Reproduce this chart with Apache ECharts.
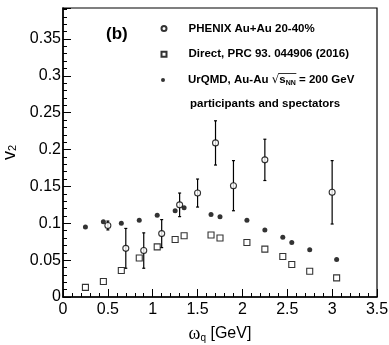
<!DOCTYPE html>
<html><head><meta charset="utf-8">
<script src="https://cdn.jsdelivr.net/npm/echarts@6/dist/echarts.min.js"></script>
<style>html,body{margin:0;padding:0;background:#fff}#c{width:389px;height:345px}</style>
</head><body><div id="c"></div>
<script>
// ---- data ----
const phenixX = [0.5, 0.7, 0.9, 1.1, 1.3, 1.5, 1.7, 1.9, 2.25, 3.0];
const phenixY = [0.097, 0.066, 0.063, 0.086, 0.125, 0.141, 0.209, 0.151, 0.186, 0.142];
const phenixErr = [0.006, 0.027, 0.024, 0.019, 0.016, 0.019, 0.030, 0.034, 0.028, 0.043];
const directX = [0.25, 0.45, 0.65, 0.85, 1.05, 1.25, 1.35, 1.65, 1.75, 2.05, 2.25, 2.45, 2.55, 2.75, 3.05];
const directY = [0.013, 0.021, 0.036, 0.053, 0.068, 0.078, 0.083, 0.084, 0.080, 0.074, 0.065, 0.055, 0.044, 0.035, 0.026];
const urqmdX = [0.25, 0.45, 0.65, 0.85, 1.05, 1.25, 1.35, 1.65, 1.75, 2.05, 2.25, 2.45, 2.55, 2.75, 3.05];
const urqmdY = [0.095, 0.102, 0.100, 0.104, 0.111, 0.117, 0.121, 0.112, 0.109, 0.104, 0.091, 0.081, 0.074, 0.064, 0.051];
const seriesNames = ['PHENIX Au+Au 20-40%', 'Direct, PRC 93. 044906 (2016)', 'UrQMD, Au-Au'];
const xTicks = {min: 0, max: 3.5, step: 0.5};
const yTicks = {min: 0, max: 0.392, step: 0.05, minorStep: 0.01};

const FONT = 'Liberation Sans';
const chart = echarts.init(document.getElementById('c'), null, {renderer: 'canvas'});

const phenixPts = phenixX.map((x, i) => [x, phenixY[i]]);
const phenixBars = phenixX.map((x, i) => [x, phenixY[i] - phenixErr[i], phenixY[i] + phenixErr[i]]);
const directPts = directX.map((x, i) => [x, directY[i]]);
const urqmdPts = urqmdX.map((x, i) => [x, urqmdY[i]]);

function legendItem(name, top, size) {
  return {
    data: [name], left: 163 - size / 2, top: top, orient: 'vertical', padding: 0,
    itemWidth: size, itemHeight: size, selectedMode: false,
    formatter: n => n === seriesNames[2]
      ? n + ' {r|√}{s|s}{n|NN} = 200 GeV'
      : n,
    textStyle: {
      fontFamily: FONT, fontWeight: 'bold', fontSize: 11.5, color: '#000', lineHeight: 14,
      padding: [0, 0, 0, 22 - size],
      rich: {
        r: {fontFamily: 'DejaVu Sans', fontWeight: 'normal', fontSize: 12, color: '#000', lineHeight: 14},
        s: {fontFamily: FONT, fontWeight: 'bold', fontSize: 11.5, color: '#000', lineHeight: 14},
        n: {fontFamily: FONT, fontWeight: 'bold', fontSize: 7, color: '#000', lineHeight: 8, verticalAlign: 'bottom'}
      }
    }
  };
}

// overbar of the square root sign in the UrQMD legend entry
const mctx = document.createElement('canvas').getContext('2d');
function tw(font, s) { mctx.font = font; return mctx.measureText(s).width; }
const legTextX = 161 + 4 + 5 + 18;
const rootX = legTextX + tw('bold 11.5px "Liberation Sans"', seriesNames[2] + ' ');
const rootW = tw('12px "DejaVu Sans"', '√');
const barX1 = rootX + rootW - 0.8;
const barX2 = rootX + rootW + tw('bold 11.5px "Liberation Sans"', 's') + tw('bold 7px "Liberation Sans"', 'NN') + 0.5;

const option = {
  animation: false,
  backgroundColor: '#fff',
  grid: {left: 63, right: 12, top: 8, bottom: 48, outerBoundsMode: 'none', containLabel: false,
    show: true, borderColor: '#000', borderWidth: 1.2, backgroundColor: 'transparent'},
  legend: [
    legendItem(seriesNames[0], 21.5, 5),
    legendItem(seriesNames[1], 47.2, 5),
    legendItem(seriesNames[2], 73, 4)
  ],
  xAxis: {
    type: 'value', min: xTicks.min, max: xTicks.max, interval: xTicks.step,
    axisLine: {lineStyle: {color: '#000', width: 1.5}},
    axisTick: {inside: true, length: 8, lineStyle: {color: '#000', width: 1}},
    minorTick: {show: true, splitNumber: 5, length: 4, lineStyle: {color: '#000', width: 1}},
    splitLine: {show: false}, minorSplitLine: {show: false},
    axisLabel: {color: '#000', fontSize: 16, fontFamily: FONT, margin: 5},
    name: '{w|ω}{q|q}{u| [GeV]}', nameLocation: 'middle', nameGap: 28,
    nameTextStyle: {
      rich: {
        w: {fontFamily: 'Liberation Serif', fontSize: 18, color: '#000', lineHeight: 18},
        q: {fontFamily: FONT, fontSize: 10, color: '#000', lineHeight: 10, verticalAlign: 'bottom'},
        u: {fontFamily: FONT, fontSize: 16, color: '#000', lineHeight: 18}
      }
    }
  },
  yAxis: [{
    type: 'value', min: yTicks.min, max: yTicks.max, interval: yTicks.step, position: 'left',
    axisLine: {lineStyle: {color: '#000', width: 1.5}},
    axisTick: {inside: true, length: 8, lineStyle: {color: '#000', width: 1}},
    splitLine: {show: false},
    axisLabel: {color: '#000', fontSize: 16, fontFamily: FONT, margin: 2,
      formatter: v => (Math.abs(v - yTicks.max) < 1e-9) ? '' : String(+v.toFixed(2))},
    name: '{v|v}{s|2}', nameLocation: 'middle', nameGap: 44,
    nameTextStyle: {
      rich: {
        v: {fontFamily: FONT, fontSize: 18, color: '#000', lineHeight: 18},
        s: {fontFamily: FONT, fontSize: 11, color: '#000', lineHeight: 8, verticalAlign: 'bottom'}
      }
    }
  }, {
    type: 'value', min: yTicks.min, max: yTicks.max, interval: yTicks.minorStep, position: 'left', offset: 0,
    axisLine: {show: false},
    axisTick: {inside: true, length: 4, lineStyle: {color: '#000', width: 1}},
    splitLine: {show: false}, axisLabel: {show: false}
  }],
  graphic: [
    {type: 'text', left: 106, top: 26, style: {text: '(b)', fontFamily: FONT, fontWeight: 'bold', fontSize: 17, fill: '#000'}},
    {type: 'text', left: 190, top: 98, style: {text: 'participants and spectators', fontFamily: FONT, fontWeight: 'bold', fontSize: 11.5, fill: '#000'}},
    {type: 'line', shape: {x1: barX1, y1: 73.5, x2: barX2, y2: 73.5}, style: {stroke: '#000', lineWidth: 0.8}}
  ],
  series: [
    {
      type: 'custom', name: 'err', silent: true, z: 2,
      renderItem: (params, api) => {
        const p1 = api.coord([api.value(0), api.value(2)]);
        const p2 = api.coord([api.value(0), api.value(1)]);
        const c = 1.5, st = {stroke: '#000', lineWidth: 1.2};
        return {type: 'group', children: [
          {type: 'line', shape: {x1: p1[0], y1: p1[1], x2: p2[0], y2: p2[1]}, style: st},
          {type: 'line', shape: {x1: p1[0] - c, y1: p1[1], x2: p1[0] + c, y2: p1[1]}, style: st},
          {type: 'line', shape: {x1: p2[0] - c, y1: p2[1], x2: p2[0] + c, y2: p2[1]}, style: st}
        ]};
      },
      encode: {x: 0, y: [1, 2]},
      data: phenixBars
    },
    {type: 'scatter', name: seriesNames[0], data: phenixPts, symbol: 'circle', symbolSize: 6, z: 5,
      itemStyle: {color: '#fff', borderColor: '#000', borderWidth: 1.1}},
    {type: 'scatter', name: seriesNames[1], data: directPts, symbol: 'rect', symbolSize: 6, z: 4,
      itemStyle: {color: '#fff', borderColor: '#000', borderWidth: 1.1}},
    {type: 'scatter', name: seriesNames[2], data: urqmdPts, symbol: 'circle', symbolSize: 5, z: 4,
      itemStyle: {color: '#000'}}
  ]
};
chart.setOption(option);
</script>
</body></html>
